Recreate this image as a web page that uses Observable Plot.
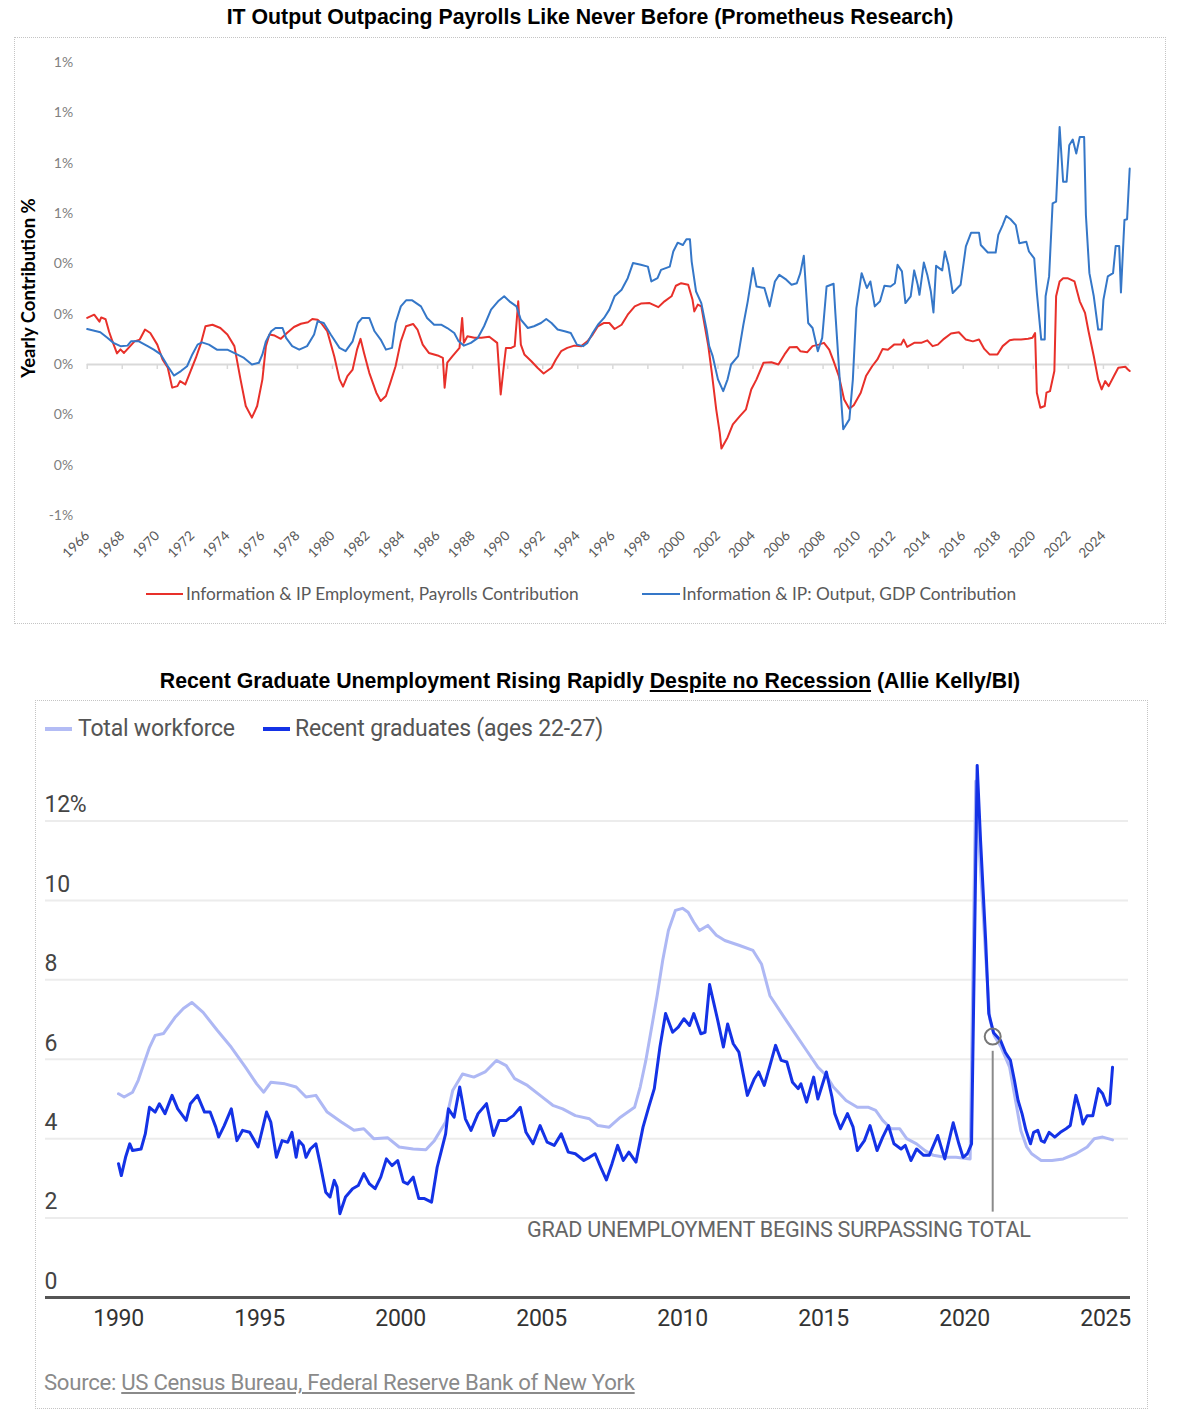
<!DOCTYPE html>
<html><head><meta charset="utf-8">
<script src="https://cdn.jsdelivr.net/npm/d3@7"></script>
<script src="https://cdn.jsdelivr.net/npm/@observablehq/plot@0.6"></script>
<style>
body{margin:0;background:#fff;width:1180px;height:1416px;position:relative;overflow:hidden;font-family:"Liberation Sans",Arial,sans-serif;}
.abs{position:absolute;}
.title{position:absolute;left:0;width:1180px;text-align:center;font-weight:bold;font-size:21.3px;color:#000;line-height:24px;white-space:nowrap;}
.frame{position:absolute;border:1px dotted #c4c4c4;box-sizing:border-box;}
.lg1{position:absolute;font-family:Lato,sans-serif;font-size:17.3px;color:#595959;line-height:20px;white-space:nowrap;}
.lg2{position:absolute;font-family:Roboto,sans-serif;font-size:23px;color:#555;line-height:28px;white-space:nowrap;letter-spacing:-0.2px;}
.sw{position:absolute;}
</style></head><body>
<div class="title" style="top:5px">IT Output Outpacing Payrolls Like Never Before (Prometheus Research)</div>
<div class="frame" style="left:14px;top:37px;width:1152px;height:587px"></div>
<div id="c1" class="abs" style="left:14px;top:37px"></div>
<div class="abs" style="left:28px;top:288px;width:0;height:0;">
  <div style="position:absolute;transform:translate(-50%,-50%) rotate(-90deg);font-family:Lato,sans-serif;font-weight:bold;font-size:18.5px;color:#000;white-space:nowrap;">Yearly Contribution %</div>
</div>
<div class="sw" style="left:146px;top:593px;width:37px;height:2px;background:#e8302a"></div>
<div class="lg1" style="left:186px;top:584px">Information &amp; IP Employment, Payrolls Contribution</div>
<div class="sw" style="left:642px;top:593px;width:38px;height:2px;background:#3577c8"></div>
<div class="lg1" style="left:682px;top:584px">Information &amp; IP: Output, GDP Contribution</div>

<div class="title" style="top:669px">Recent Graduate Unemployment Rising Rapidly <u>Despite no Recession</u> (Allie Kelly/BI)</div>
<div class="frame" style="left:35px;top:700px;width:1113px;height:709px"></div>
<div class="sw" style="left:45px;top:727px;width:27px;height:4px;background:#b3bcf5"></div>
<div class="lg2" style="left:78px;top:715px">Total workforce</div>
<div class="sw" style="left:263px;top:727px;width:27px;height:4px;background:#1432e6"></div>
<div class="lg2" style="left:295px;top:715px">Recent graduates (ages 22-27)</div>
<div id="c2" class="abs" style="left:35px;top:745px"></div>
<div class="abs" style="left:44px;top:1369px;font-family:Roboto,sans-serif;font-size:22.2px;color:#8a8a8a;letter-spacing:-0.3px;white-space:nowrap;">Source: <span style="text-decoration:underline">US Census Bureau, Federal Reserve Bank of New York</span></div>

<script>
// ---------- Chart 1 data (percentage-point contribution, in %) ----------
const payYears = [1966.0,1966.4,1966.7,1966.8,1967.05,1967.25,1967.4,1967.7,1967.9,1968.1,1968.4,1968.7,1969.0,1969.3,1969.6,1970.0,1970.3,1970.6,1970.85,1971.15,1971.3,1971.6,1971.9,1972.2,1972.5,1972.75,1973.15,1973.6,1974.0,1974.4,1974.75,1975.05,1975.4,1975.7,1976.0,1976.2,1976.4,1976.7,1977.05,1977.4,1977.8,1978.2,1978.6,1978.85,1979.15,1979.35,1979.7,1980.1,1980.4,1980.6,1980.85,1981.15,1981.4,1981.6,1981.8,1982.1,1982.5,1982.75,1983.05,1983.3,1983.6,1983.9,1984.2,1984.6,1984.85,1985.15,1985.5,1986.0,1986.3,1986.4,1986.55,1986.85,1987.25,1987.4,1987.5,1987.7,1988.1,1988.5,1988.95,1989.4,1989.6,1989.8,1989.9,1990.2,1990.4,1990.6,1990.75,1990.95,1991.35,1991.7,1992.05,1992.5,1992.75,1993.05,1993.4,1993.8,1994.2,1994.55,1994.85,1995.15,1995.5,1995.8,1996.1,1996.5,1996.85,1997.25,1997.6,1998.1,1998.6,1998.95,1999.35,1999.6,1999.9,2000.3,2000.55,2000.65,2000.85,2001.05,2001.25,2001.45,2001.65,2001.9,2002.1,2002.2,2002.55,2002.85,2003.25,2003.6,2003.9,2004.2,2004.6,2005.05,2005.45,2005.8,2006.1,2006.5,2006.7,2007.1,2007.4,2007.75,2008.05,2008.35,2008.6,2008.9,2009.2,2009.5,2009.75,2010.15,2010.45,2010.8,2011.1,2011.4,2011.7,2012.05,2012.45,2012.6,2012.8,2013.2,2013.6,2013.95,2014.25,2014.55,2014.9,2015.3,2015.75,2016.15,2016.55,2016.9,2017.2,2017.5,2017.95,2018.25,2018.65,2018.9,2019.3,2019.7,2019.95,2020.1,2020.2,2020.4,2020.65,2020.75,2020.95,2021.2,2021.3,2021.5,2021.7,2021.95,2022.35,2022.65,2022.95,2023.15,2023.45,2023.7,2023.9,2024.1,2024.3,2024.6,2024.85,2025.25,2025.4,2025.5];
const payVals = [0.185,0.198,0.17,0.187,0.18,0.13,0.10,0.044,0.06,0.046,0.069,0.092,0.099,0.139,0.125,0.079,0.02,-0.013,-0.092,-0.086,-0.066,-0.079,-0.026,0.026,0.086,0.152,0.158,0.145,0.119,0.073,-0.059,-0.165,-0.211,-0.165,-0.059,0.073,0.119,0.115,0.102,0.125,0.149,0.162,0.168,0.181,0.178,0.165,0.132,0.033,-0.059,-0.088,-0.046,-0.02,0.059,0.102,0.046,-0.033,-0.112,-0.145,-0.125,-0.073,-0.007,0.092,0.152,0.161,0.139,0.079,0.046,0.036,0.026,-0.092,0.007,0.033,0.066,0.185,0.086,0.112,0.106,0.106,0.11,0.086,-0.119,0.007,0.066,0.066,0.073,0.251,0.079,0.04,0.013,-0.013,-0.036,-0.013,0.02,0.053,0.066,0.075,0.073,0.092,0.119,0.152,0.165,0.165,0.141,0.158,0.198,0.231,0.242,0.244,0.228,0.251,0.271,0.313,0.323,0.317,0.257,0.211,0.238,0.231,0.152,0.073,-0.033,-0.178,-0.271,-0.334,-0.29,-0.238,-0.205,-0.178,-0.099,-0.059,0.007,0.009,0.0,0.04,0.069,0.07,0.053,0.049,0.073,0.079,0.086,0.059,0.013,-0.046,-0.139,-0.176,-0.162,-0.112,-0.046,-0.007,0.02,0.062,0.059,0.079,0.079,0.099,0.07,0.086,0.086,0.096,0.073,0.079,0.102,0.123,0.128,0.099,0.092,0.099,0.062,0.04,0.04,0.073,0.096,0.099,0.099,0.102,0.106,0.125,-0.112,-0.172,-0.165,-0.112,-0.106,-0.026,0.271,0.33,0.343,0.343,0.33,0.251,0.205,0.132,0.033,-0.059,-0.099,-0.066,-0.086,-0.046,-0.013,-0.009,-0.02,-0.026];
const gdpYears = [1966.0,1966.75,1967.15,1967.5,1967.9,1968.3,1968.5,1968.95,1969.45,1969.8,1970.2,1970.6,1970.95,1971.35,1971.7,1972.0,1972.3,1972.55,1972.95,1973.4,1974.0,1974.55,1974.95,1975.4,1975.8,1976.0,1976.2,1976.5,1976.75,1977.15,1977.35,1977.7,1978.1,1978.55,1978.95,1979.15,1979.5,1979.9,1980.4,1980.75,1981.15,1981.45,1981.7,1982.1,1982.4,1982.75,1983.05,1983.4,1983.6,1983.9,1984.2,1984.55,1985.05,1985.4,1985.8,1986.2,1986.55,1986.95,1987.2,1987.5,1987.9,1988.3,1988.65,1989.05,1989.45,1989.8,1990.1,1990.5,1990.75,1991.15,1991.5,1991.9,1992.2,1992.5,1992.85,1993.25,1993.6,1993.95,1994.3,1994.55,1994.85,1995.15,1995.5,1995.8,1996.1,1996.5,1996.85,1997.15,1997.6,1998.0,1998.2,1998.55,1998.75,1999.25,1999.45,1999.7,2000.0,2000.2,2000.4,2000.5,2000.75,2001.05,2001.35,2001.5,2001.7,2002.0,2002.3,2002.55,2002.75,2003.15,2003.45,2003.7,2004.0,2004.2,2004.65,2004.95,2005.25,2005.5,2005.9,2006.2,2006.5,2006.7,2006.9,2007.15,2007.4,2007.7,2007.95,2008.2,2008.6,2008.7,2008.95,2009.15,2009.5,2009.7,2009.9,2010.2,2010.5,2010.7,2010.95,2011.25,2011.5,2011.85,2012.1,2012.25,2012.5,2012.7,2013.0,2013.2,2013.4,2013.5,2013.75,2013.95,2014.15,2014.3,2014.45,2014.8,2014.95,2015.15,2015.4,2015.85,2016.15,2016.45,2016.9,2017.0,2017.4,2017.85,2018.0,2018.25,2018.45,2018.7,2019.0,2019.2,2019.6,2019.75,2020.05,2020.2,2020.45,2020.65,2020.7,2020.9,2021.1,2021.3,2021.5,2021.7,2021.9,2022.05,2022.25,2022.45,2022.65,2022.9,2023.0,2023.2,2023.45,2023.7,2023.9,2024.0,2024.25,2024.55,2024.7,2024.9,2025.0,2025.2,2025.35,2025.5];
const gdpVals = [0.141,0.128,0.106,0.086,0.073,0.075,0.092,0.092,0.073,0.059,0.04,-0.007,-0.044,-0.026,-0.007,0.04,0.079,0.088,0.079,0.059,0.059,0.04,0.026,0.0,0.007,0.04,0.092,0.132,0.145,0.145,0.106,0.073,0.059,0.073,0.119,0.172,0.165,0.119,0.066,0.053,0.092,0.165,0.185,0.185,0.132,0.099,0.059,0.066,0.165,0.231,0.255,0.255,0.231,0.185,0.158,0.158,0.145,0.125,0.092,0.075,0.086,0.106,0.152,0.218,0.251,0.271,0.251,0.231,0.178,0.145,0.152,0.165,0.181,0.165,0.139,0.132,0.125,0.079,0.073,0.086,0.125,0.158,0.185,0.218,0.271,0.297,0.343,0.403,0.396,0.389,0.33,0.343,0.376,0.389,0.449,0.484,0.475,0.498,0.498,0.409,0.29,0.244,0.139,0.073,0.033,-0.059,-0.106,-0.059,0.0,0.033,0.158,0.251,0.383,0.31,0.304,0.231,0.33,0.356,0.337,0.317,0.323,0.363,0.432,0.165,0.145,0.053,0.106,0.31,0.321,0.205,-0.059,-0.257,-0.218,-0.059,0.224,0.363,0.304,0.33,0.231,0.251,0.313,0.31,0.323,0.396,0.37,0.244,0.271,0.374,0.317,0.277,0.405,0.356,0.29,0.207,0.392,0.374,0.449,0.396,0.284,0.317,0.469,0.524,0.524,0.475,0.445,0.445,0.515,0.554,0.59,0.577,0.554,0.482,0.488,0.449,0.422,0.286,0.099,0.099,0.271,0.35,0.64,0.647,0.944,0.726,0.726,0.871,0.894,0.838,0.904,0.904,0.594,0.363,0.271,0.139,0.139,0.257,0.35,0.363,0.471,0.471,0.286,0.574,0.577,0.779];
const yTicks1 = [-0.6,-0.4,-0.2,0,0.2,0.4,0.6,0.8,1.0,1.2];
const xTicks1 = [1966,1968,1970,1972,1974,1976,1978,1980,1982,1984,1986,1988,1990,1992,1994,1996,1998,2000,2002,2004,2006,2008,2010,2012,2014,2016,2018,2020,2022,2024];

// ---------- Chart 2 data (unemployment rate, %) ----------
const gradYears = [1990.0,1990.1,1990.25,1990.4,1990.5,1990.8,1990.95,1991.1,1991.3,1991.45,1991.65,1991.9,1992.1,1992.4,1992.55,1992.8,1993.05,1993.25,1993.45,1993.55,1993.75,1994.0,1994.2,1994.4,1994.65,1994.95,1995.25,1995.4,1995.6,1995.8,1996.0,1996.15,1996.3,1996.4,1996.55,1996.65,1996.8,1997.0,1997.15,1997.35,1997.5,1997.65,1997.75,1997.85,1998.05,1998.3,1998.5,1998.7,1998.9,1999.1,1999.3,1999.5,1999.7,1999.9,2000.1,2000.25,2000.45,2000.65,2000.85,2001.1,2001.3,2001.45,2001.6,2001.7,2001.9,2002.1,2002.3,2002.5,2002.75,2003.05,2003.3,2003.5,2003.75,2004.0,2004.25,2004.45,2004.7,2004.95,2005.2,2005.45,2005.7,2005.95,2006.2,2006.5,2006.7,2006.9,2007.1,2007.3,2007.5,2007.7,2007.9,2008.1,2008.35,2008.6,2008.8,2009.0,2009.2,2009.4,2009.65,2009.85,2010.05,2010.25,2010.4,2010.65,2010.8,2010.96,2011.25,2011.45,2011.6,2011.8,2012.0,2012.3,2012.55,2012.7,2012.9,2013.1,2013.3,2013.5,2013.7,2013.9,2014.1,2014.2,2014.4,2014.65,2014.8,2015.1,2015.3,2015.4,2015.6,2015.85,2016.05,2016.2,2016.45,2016.65,2016.9,2017.1,2017.3,2017.5,2017.75,2017.9,2018.1,2018.3,2018.55,2018.75,2019.05,2019.3,2019.6,2019.8,2019.95,2020.1,2020.25,2020.45,2020.57,2020.75,2020.86,2021.03,2021.28,2021.45,2021.63,2021.77,2021.9,2022.04,2022.18,2022.34,2022.45,2022.6,2022.72,2022.83,2023.0,2023.2,2023.4,2023.6,2023.75,2023.95,2024.1,2024.2,2024.35,2024.55,2024.75,2024.9,2025.05,2025.15,2025.25];
const gradVals = [3.37,3.07,3.53,3.87,3.70,3.74,4.12,4.79,4.67,4.88,4.63,5.09,4.75,4.46,4.88,5.09,4.67,4.67,4.29,4.04,4.33,4.75,3.95,4.21,4.16,3.79,4.67,4.42,3.53,3.95,3.91,4.16,3.53,3.95,3.83,3.53,3.74,3.87,3.37,2.65,2.53,2.95,2.78,2.11,2.53,2.74,2.82,3.12,2.86,2.74,3.03,3.49,3.32,3.45,2.91,2.86,3.03,2.49,2.49,2.40,3.28,3.70,4.12,4.75,4.54,5.30,4.50,4.21,4.63,4.88,4.08,4.46,4.46,4.58,4.79,4.16,3.87,4.33,3.91,3.83,4.12,3.66,3.62,3.45,3.53,3.62,3.28,2.96,3.37,3.83,3.45,3.66,3.41,4.29,4.79,5.26,6.31,7.15,6.68,6.81,7.02,6.85,7.15,6.64,6.68,7.88,6.98,6.31,6.89,6.39,6.18,5.09,5.51,5.68,5.34,5.84,6.35,5.97,5.93,5.42,5.26,5.38,4.92,5.55,5.00,5.68,5.05,4.63,4.25,4.63,4.29,3.70,3.95,4.33,3.70,4.04,4.33,3.87,3.74,3.83,3.45,3.74,3.58,3.58,4.08,3.49,4.40,3.87,3.53,3.62,3.87,13.4,11.5,9.0,7.15,6.67,6.47,6.17,5.97,5.47,4.96,4.63,4.21,3.87,4.16,4.21,3.95,3.91,4.16,4.04,4.16,4.25,4.33,5.09,4.71,4.37,4.58,4.58,5.26,5.13,4.84,4.88,5.80];
const totalYears = [1990.0,1990.2,1990.5,1990.7,1990.9,1991.1,1991.3,1991.6,1992.0,1992.3,1992.6,1993.0,1993.5,1994.0,1994.5,1994.9,1995.15,1995.4,1995.9,1996.3,1996.65,1997.0,1997.4,1997.9,1998.35,1998.7,1999.05,1999.55,1999.95,2000.45,2000.9,2001.2,2001.6,2001.85,2002.2,2002.6,2003.0,2003.4,2003.75,2004.05,2004.5,2004.95,2005.4,2005.75,2006.2,2006.7,2007.0,2007.4,2007.8,2008.3,2008.5,2008.7,2008.95,2009.1,2009.3,2009.5,2009.75,2010.0,2010.2,2010.4,2010.6,2010.9,2011.2,2011.5,2012.0,2012.5,2012.8,2013.1,2013.6,2014.0,2014.4,2014.8,2015.1,2015.35,2015.8,2016.2,2016.6,2016.85,2017.1,2017.4,2017.7,2017.95,2018.3,2018.6,2018.9,2019.3,2019.7,2020.2,2020.4,2020.55,2020.75,2020.9,2021.05,2021.3,2021.6,2021.8,2022.0,2022.2,2022.38,2022.72,2023.1,2023.5,2023.95,2024.35,2024.6,2024.9,2025.25];
const totalVals = [5.13,5.05,5.17,5.47,5.89,6.3,6.6,6.65,7.05,7.28,7.43,7.18,6.73,6.3,5.80,5.38,5.17,5.42,5.38,5.30,5.05,5.09,4.67,4.42,4.21,4.25,4.00,4.02,3.79,3.74,3.72,3.95,4.42,5.21,5.63,5.55,5.68,5.97,5.84,5.51,5.34,5.09,4.84,4.75,4.58,4.50,4.33,4.29,4.54,4.79,5.30,5.97,6.98,7.6,8.5,9.24,9.75,9.8,9.7,9.45,9.24,9.37,9.12,8.99,8.87,8.74,8.4,7.6,7.06,6.64,6.22,5.80,5.59,5.30,4.96,4.79,4.79,4.71,4.46,4.25,4.25,4.0,3.87,3.70,3.58,3.53,3.53,3.49,13.0,11.0,8.6,7.0,6.6,6.3,5.8,5.0,4.2,3.8,3.62,3.45,3.45,3.49,3.62,3.79,4.0,4.04,3.97];
const yTicks2 = [0,2,4,6,8,10,12];
const gridVals2 = [2,4,6,8,10,12];
const xTicks2 = [1990,1995,2000,2005,2010,2015,2020,2025];
const annotYear = [2021.0];
const annotCircleVal = [6.57];
const annotLineFrom = [6.2];
const annotLineTo = [2.15];
const annotTextVal = [1.71];
const annotLabel = ["GRAD UNEMPLOYMENT BEGINS SURPASSING TOTAL"];

// ---------- build ----------
const pay = payYears.map((x, i) => ({x, y: payVals[i]}));
const gdp = gdpYears.map((x, i) => ({x, y: gdpVals[i]}));

const p1 = Plot.plot({
  width: 1151, height: 540,
  marginLeft: 72.7, marginRight: 35.8, marginTop: 25, marginBottom: 62,
  x: {domain: [1966, 2025.5]},
  y: {domain: [-0.6, 1.2]},
  style: {fontFamily: "Lato, sans-serif", background: "transparent", overflow: "visible"},
  marks: [
    Plot.ruleY([0], {stroke: "#d9d9d9", strokeWidth: 2}),
    Plot.ruleX(xTicks1, {x: d => d, y1: 0, y2: 0, stroke: "#d9d9d9", strokeWidth: 1.5, insetBottom: -5}),
    Plot.axisY({ticks: yTicks1, tickSize: 0, tickPadding: 14, tickFormat: d => `${Math.round(d)}%`, fontSize: 14, color: "#808080", label: null}),
    Plot.axisX({ticks: xTicks1, tickSize: 0, tickRotate: -45, tickPadding: 18, tickFormat: d => String(d), fontSize: 13.5, color: "#595959", label: null}),
    Plot.line(pay, {x: "x", y: "y", stroke: "#e8302a", strokeWidth: 2}),
    Plot.line(gdp, {x: "x", y: "y", stroke: "#3577c8", strokeWidth: 2})
  ]
});
document.getElementById("c1").appendChild(p1);

const grads = gradYears.map((x, i) => ({x, y: gradVals[i]}));
const total = totalYears.map((x, i) => ({x, y: totalVals[i]}));
const annot = annotYear.map((x, i) => ({x, yc: annotCircleVal[i], y1: annotLineFrom[i], y2: annotLineTo[i], yt: annotTextVal[i], label: annotLabel[i]}));

const p2 = Plot.plot({
  width: 1112, height: 600,
  marginLeft: 83, marginRight: 42, marginTop: 4, marginBottom: 48,
  x: {domain: [1990, 2025]},
  y: {domain: [0, 13.8], axis: null},
  style: {fontFamily: "Roboto, sans-serif", background: "transparent", overflow: "visible", letterSpacing: "-0.3px"},
  marks: [
    Plot.ruleY(gridVals2, {stroke: "#ececec", strokeWidth: 2, insetLeft: -73, insetRight: -23}),
    Plot.text(yTicks2, {y: d => d, text: d => d === 12 ? "12%" : String(d), frameAnchor: "left", dx: -74, dy: -16, textAnchor: "start", fontSize: 23, fill: "#444"}),
    Plot.ruleY([0], {stroke: "#555", strokeWidth: 3, insetLeft: -73, insetRight: -25}),
    Plot.axisX({ticks: xTicks2, tickSize: 0, tickPadding: 12, tickFormat: d => String(d), fontSize: 23, color: "#333", label: null}),
    Plot.line(total, {x: "x", y: "y", stroke: "#aeb8f4", strokeWidth: 3}),
    Plot.line(grads, {x: "x", y: "y", stroke: "#1432e6", strokeWidth: 3}),
    Plot.ruleX(annot, {x: "x", y1: "y1", y2: "y2", stroke: "#8a8a8a", strokeWidth: 2}),
    Plot.dot(annot, {x: "x", y: "yc", r: 8, stroke: "#777", strokeWidth: 2, fill: "none"}),
    Plot.text(annot, {x: "x", y: "yt", text: "label", textAnchor: "end", dx: 38, fontSize: 21.6, fill: "#666"})
  ]
});
document.getElementById("c2").appendChild(p2);
</script>
</body></html>
